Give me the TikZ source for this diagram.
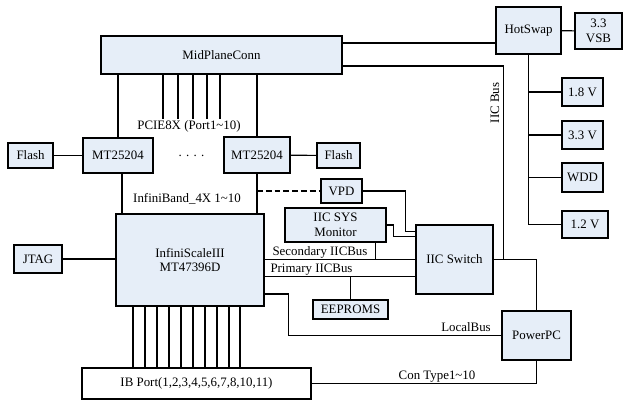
\documentclass[tikz,border=0pt]{standalone}
\usepackage{fontspec}
\setmainfont{Liberation Serif}
\definecolor{blkfill}{RGB}{230,238,248}
\tikzset{
  blk/.style={draw, fill=blkfill, inner sep=0pt, align=center},
  sz/.style 2 args={minimum width=#1*0.03cm, minimum height=#2*0.03cm},
  lbl/.style={inner sep=1pt}
}
\begin{document}
\begin{tikzpicture}[x=0.03cm, y=-0.03cm, line width=0.95pt, font=\fontsize{11}{12.5}\selectfont]
\useasboundingbox (0,0) rectangle (623,400);
% blocks
\node[blk, sz={241}{38}] (mid) at (221.5,55) {MidPlaneConn};
\node[blk, sz={65}{47}] (hot) at (528.5,30.5) {HotSwap};
\node[blk, sz={47}{36}] (vsb) at (598.5,31) {3.3\\VSB};
\node[blk, sz={41}{28}] (v18) at (582.5,92) {1.8 V};
\node[blk, sz={41}{28}] (v33) at (582.5,135) {3.3 V};
\node[blk, sz={41}{29}] (wdd) at (582.5,177.5) {WDD};
\node[blk, sz={46}{27}] (v12) at (585,224.5) {1.2 V};
\node[blk, sz={45}{25}] (flashl) at (30.5,155.5) {Flash};
\node[blk, sz={70}{35}] (mtl) at (118,155.5) {MT25204};
\node[lbl] (dots) at (191.5,156) {. . . .};
\node[blk, sz={66}{36}] (mtr) at (257,155) {MT25204};
\node[blk, sz={43}{25}] (flashr) at (338.5,155.5) {Flash};
\node[blk, sz={148}{92}] (isw) at (190,260) {InfiniScaleIII\\MT47396D};
\node[blk, sz={41}{24}] (vpd) at (341.5,191) {VPD};
\node[blk, sz={101}{34}] (mon) at (335.5,225) {IIC SYS\\Monitor};
\node[blk, sz={75}{19}] (eep) at (350.5,309.5) {EEPROMS};
\node[blk, sz={77}{69}] (iic) at (454.5,259.5) {IIC Switch};
\node[blk, sz={69}{49}] (ppc) at (536.5,335.5) {PowerPC};
\node[blk, sz={48}{28}] (jtag) at (38,259) {JTAG};
\node[blk, fill=white, sz={229}{31}] (ibp) at (196.5,383.5) {IB Port(1,2,3,4,5,6,7,8,10,11)};
% labels
\node[lbl] (pcie) at (189,126.5) {PCIE8X (Port1\textasciitilde10)};
\node[lbl] (ib4x) at (187,199) {InfiniBand\_4X 1\textasciitilde10};
\node[lbl, rotate=90] (iicbus) at (495,103) {IIC Bus};
\node[lbl] (sec) at (320,252.5) {Secondary IICBus};
\node[lbl] (pri) at (311.5,269.5) {Primary IICBus};
\node[lbl] (lbus) at (466,327.5) {LocalBus};
\node[lbl] (ctype) at (437,377) {Con Type1\textasciitilde10};
% connectors
\coordinate (ma) at ([yshift=0.36cm]mid.east);
\draw (ma) -- (ma -| hot.west);
\draw ([yshift=-0.33cm]mid.east) -| ([xshift=0.3cm]iic.east);
\draw (iic.east) -| (ppc.north);
\draw (hot) -- (vsb);
\draw (hot.south) |- (v12.west);
\foreach \n in {v18,v33,wdd} \draw (hot.south |- \n.west) -- (\n.west);
\draw (flashl) -- (mtl);
\draw (mtr) -- (flashr);
\draw (mtl.north) -- (mtl.north |- mid.south);
\draw (mtr.north) -- (mtr.north |- mid.south);
\foreach \x in {163,178,193,207,220} \draw (\x,0 |- mid.south) -- (\x,0 |- pcie.north);
\draw ([xshift=0.12cm]mtl.south) coordinate (ml) -- (ml |- isw.north);
\draw (mtr.south) -- (mtr.south |- isw.north);
\draw[dash pattern=on 5pt off 2.5pt, line width=1.5pt] (mtr.south |- vpd.west) -- (vpd.west);
\draw (vpd.east) -| ([xshift=-0.3cm,yshift=0.85cm]iic.west) coordinate (vq) -- (vq -| iic.west);
\draw (mon.east) -| ([xshift=-0.66cm,yshift=0.7cm]iic.west) coordinate (mq) -- (mq -| iic.west);
\draw (isw.east |- iic.west) -- (iic.west);
\draw ([xshift=1.19cm]mon.south) coordinate (ms) -- (ms |- iic.west);
\coordinate (pr) at ([yshift=-0.52cm]iic.west);
\draw (pr) -- (pr -| isw.east);
\draw (eep.north) -- (eep.north |- pr);
\draw ([yshift=-1.02cm]isw.east) -- ++(24,0) |- (ppc.west);
\draw (ppc.south) |- (ibp.east);
\draw (jtag) -- (jtag -| isw.west);
\foreach \x in {133,145,157,169,181,193,205,217,229,240} \draw (\x,0 |- isw.south) -- (\x,0 |- ibp.north);
\end{tikzpicture}
\end{document}
